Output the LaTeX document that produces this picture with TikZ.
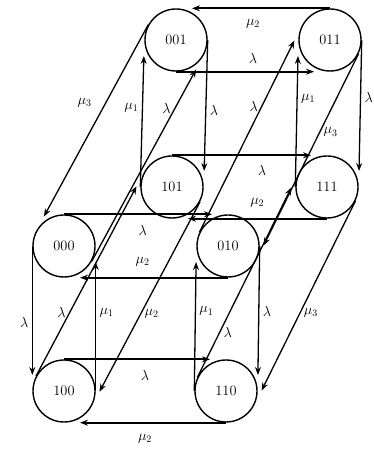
\documentclass[tikz,border=0pt]{standalone}
\usepackage{tikz}
\usetikzlibrary{arrows.meta,positioning}

\begin{document}
\begin{tikzpicture}[x=1pt,y=1pt,on grid,font=\Large,
    state/.style={draw,circle,line width=1.4pt,minimum size=62pt,inner sep=0pt},
    trans/.style={-{Stealth[length=2.8mm]},line width=1.3pt,shorten >=16pt},
    track/.style={trans,line width=1.7pt}]
  \useasboundingbox (0,0) rectangle (374,449);
  \node[state] (s000) at (64,203) {000};
  \node[state,right=164pt of s000] (s010) {010};
  \node[state,below=145pt of s000] (s100) {100};
  \node[state,right=162pt of s100] (s110) {110};
  \node[state,above right=206pt and 112pt of s000] (s001) {001};
  \node[state,right=154pt of s001] (s011) {011};
  \node[state,above right=204pt and 108pt of s100] (s101) {101};
  \node[state,right=155pt of s101] (s111) {111};
  \draw[track] (s011.north) -- node[below=7pt] {$\mu_2$} (s001.north);
  \draw[track] (s001.south) -- node[above=4pt] {$\lambda$} (s011.south);
  \draw[track] (s101.north) -- node[pos=0.58,below=6pt] {$\lambda$} (s111.north);
  \draw[track] (s111.south) -- node[pos=0.45,above=7pt] {$\mu_2$} (s101.south);
  \draw[track] (s000.north) -- node[pos=0.48,below=7pt] {$\lambda$} (s010.north);
  \draw[track] (s010.south) -- node[pos=0.52,above=7pt] {$\mu_2$} (s000.south);
  \draw[track] (s100.north) -- node[below=7pt] {$\lambda$} (s110.north);
  \draw[track] (s110.south) -- node[below=7pt] {$\mu_2$} (s100.south);
  \draw[trans] (s101.west) -- node[pos=0.54,left] {$\mu_1$} (s001.west);
  \draw[trans] (s001.east) -- node[pos=0.48,right] {$\lambda$} (s101.east);
  \draw[trans] (s111.west) -- node[pos=0.6,right] {$\mu_1$} (s011.west);
  \draw[trans] (s011.east) -- node[pos=0.39,right] {$\lambda$} (s111.east);
  \draw[trans] (s000.west) -- node[pos=0.53,left] {$\lambda$} (s100.west);
  \draw[trans] (s100.east) -- node[pos=0.54,right] {$\mu_1$} (s000.east);
  \draw[trans] (s110.west) -- node[pos=0.55,right] {$\mu_1$} (s010.west);
  \draw[trans] (s010.east) -- node[pos=0.45,right] {$\lambda$} (s110.east);
  \draw[trans] (s001.151) -- node[pos=0.38,left=10pt] {$\mu_3$} (s000.151);
  \draw[trans] (s000.-29) -- node[pos=0.74,left] {$\lambda$} (s001.-29);
  \draw[trans] (s010.154) -- node[pos=0.61,left] {$\lambda$} (s011.154);
  \draw[trans] (s011.-26) -- node[pos=0.38,right] {$\mu_3$} (s010.-26);
  \draw[trans] (s100.152) -- node[pos=0.31,left] {$\lambda$} (s101.152);
  \draw[trans] (s101.-28) -- node[pos=0.55,right] {$\mu_2$} (s100.-28);
  \draw[trans] (s110.154) -- node[pos=0.22,right] {$\lambda$} (s111.154);
  \draw[trans] (s111.-26) -- node[pos=0.55,right] {$\mu_3$} (s110.-26);
\end{tikzpicture}
\end{document}
